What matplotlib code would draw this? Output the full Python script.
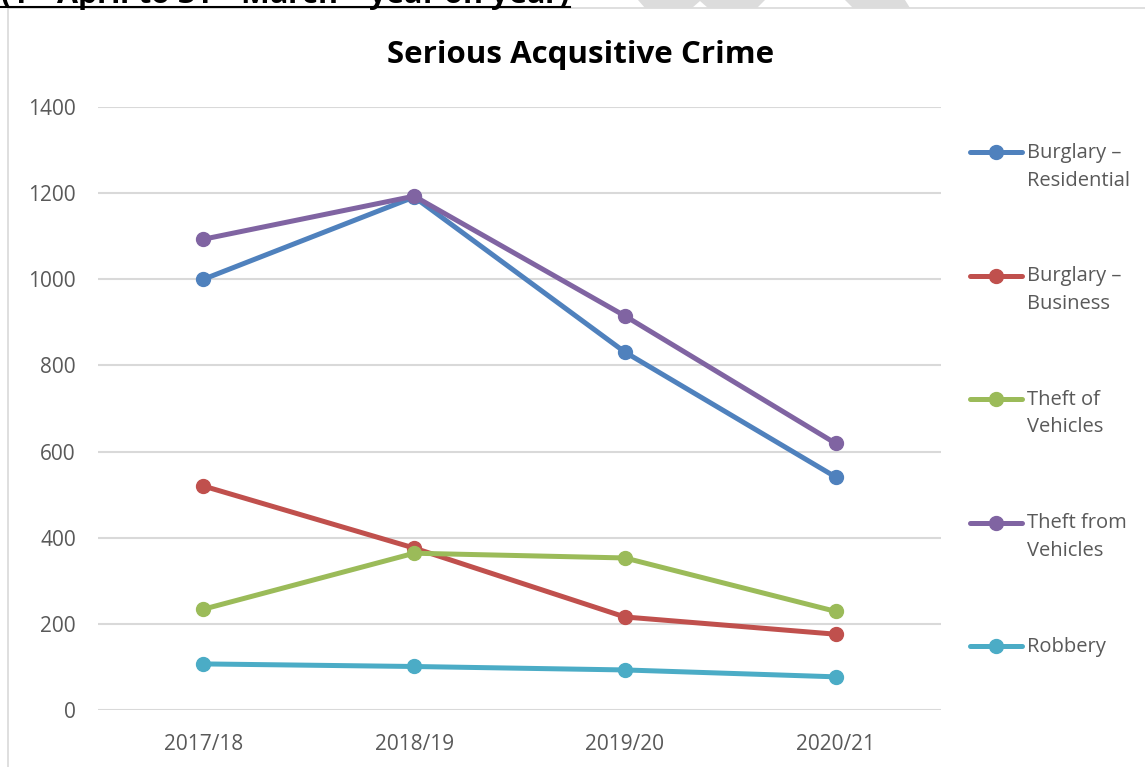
import matplotlib.pyplot as plt
from matplotlib.patches import Rectangle, Polygon
from matplotlib.lines import Line2D

years = ["2017/18", "2018/19", "2019/20", "2020/21"]
burglary_res = [1000, 1191, 831, 541]
burglary_bus = [520, 376, 216, 176]
theft_of_veh = [234, 364, 353, 229]
theft_from_veh = [1093, 1193, 915, 619]
robbery = [107, 101, 93, 77]

names = ["Burglary –\nResidential", "Burglary –\nBusiness", "Theft of\nVehicles",
         "Theft from\nVehicles", "Robbery"]
series = [burglary_res, burglary_bus, theft_of_veh, theft_from_veh, robbery]
colors = ["#4F81BD", "#C0504D", "#9BBB59", "#8064A2", "#4BACC6"]

plt.rcParams['font.family'] = ['Open Sans', 'DejaVu Sans']

W, H = 1145, 767
fig = plt.figure(figsize=(W / 100, H / 100), dpi=100)

# chart border
fig.patches.append(Rectangle((8 / W, -0.1), 1.2, 1 - 8 / H + 0.1, transform=fig.transFigure,
                             fill=False, edgecolor="#D9D9D9", linewidth=1.2))

# grey watermark bits at top edge
for pts in [[(638, 0), (765, 0), (757, 8), (708, 8), (700, 1), (692, 8), (645, 8)],
            [(845, 0), (905, 0), (910, 8), (853, 8)]]:
    fig.patches.append(Polygon([(x / W, 1 - y / H) for x, y in pts], closed=True,
                               transform=fig.transFigure, facecolor="#DCDCDC", edgecolor="none"))

# cut-off heading above the chart
fig.text(0, 1 - 4 / H, r"(1$^{\rm st}$ April to 31$^{\rm st}$ March – year on year)",
         fontsize=22, fontweight="bold", va="baseline", ha="left")
fig.add_artist(Line2D([0, 570 / W], [1 - 7 / H, 1 - 7 / H], transform=fig.transFigure,
                      color="black", linewidth=1.5))

ax = fig.add_axes([98 / W, 1 - 710 / H, (941 - 98) / W, (710 - 107) / H])
x = [i + 0.5 for i in range(len(years))]
for vals, c in zip(series, colors):
    ax.plot(x, vals, color=c, linewidth=3.6, marker="o", markersize=10, zorder=3,
            solid_capstyle="round")

ax.set_xlim(0, 4)
ax.set_ylim(0, 1400)
ax.set_yticks(range(0, 1401, 200))
ax.set_xticks(x)
ax.set_xticklabels(years)
ax.grid(axis="y", color="#D9D9D9", linewidth=1.5)
ax.set_axisbelow(True)
for s in ax.spines.values():
    s.set_visible(False)
ax.tick_params(length=0, labelsize=15, labelcolor="#595959")
ax.tick_params(axis="y", pad=16)
ax.tick_params(axis="x", pad=17)

fig.text(581 / W, 1 - 55 / H, "Serious Acqusitive Crime",
         fontsize=22.5, fontweight="bold", ha="center", va="center")

# legend
lax = fig.add_axes([960 / W, 0, 185 / W, 1])
lax.set_xlim(960, 1145)
lax.set_ylim(H, 0)
lax.axis("off")
for i, (name, c) in enumerate(zip(names, colors)):
    yy = 152 + i * 123.5
    lax.plot([970, 1022], [yy, yy], color=c, linewidth=3.6, solid_capstyle="round")
    lax.plot([996], [yy], color=c, marker="o", markersize=10)
    lax.text(1027, yy - 9, name, fontsize=14.5, color="#595959", va="top", ha="left",
             linespacing=1.5, transform=lax.transData)

fig.savefig("out.png", dpi=100)
